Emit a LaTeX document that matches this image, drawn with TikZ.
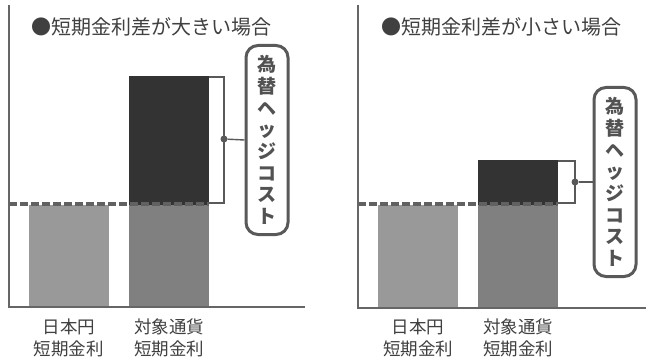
\documentclass[tikz,border=0pt]{standalone}
\usepackage{fontspec}
\newfontfamily\jp{Noto Sans CJK JP}
\begin{document}
\begin{tikzpicture}[x=1pt,y=-1pt,
  axis/.style={draw=black!60,line width=1.5pt},
  barlight/.style={fill=black!40,draw=none},
  barmid/.style={fill=black!50,draw=none},
  bardark/.style={fill=black!80,draw=none},
  lvl/.style={draw=black!62,line width=4pt,dash pattern=on 8pt off 3pt},
  brk/.style={draw=black!65,line width=1.4pt},
  dotnode/.style={circle,fill=black!65,inner sep=0pt,minimum size=7pt},
  costbox/.style={draw=black!65,line width=3pt,rounded corners=12pt,minimum width=42pt,inner sep=0pt,text=black!68,font=\jp\bfseries\fontsize{19}{21.7}\selectfont,align=center},
  ttl/.style={font=\jp\fontsize{20}{22}\selectfont,text=black!75,anchor=west,inner sep=0pt},
  lbl/.style={font=\jp\fontsize{17.5}{22.5}\selectfont,text=black!75,align=center,inner sep=0pt}
]
\useasboundingbox (0,0) rectangle (646,361);
\fill[white] (0,0) rectangle (646,361);
% ---------- left panel ----------
\node[ttl] (t1) at (31,27) {●短期金利差が大きい場合};
\fill[barlight] (29,205) rectangle (109,307);
\fill[barmid] (129,205) rectangle (209,307);
\fill[bardark] (129,76) rectangle (209,205);
\coordinate (l1a) at (9,204);
\coordinate (l1b) at (209,204);
\draw[lvl] (l1a) -- (l1b);
\coordinate (b1t) at (209,77);
\coordinate (b1b) at (209,203);
\draw[brk] (b1t) -- (224,77) -- (224,203) -- (b1b);
\node[dotnode] (d1) at (224,139) {};
\node[costbox,minimum height=189pt] (c1) at (267,140) {為\\替\\ヘ\\ッ\\ジ\\コ\\ス\\ト};
\draw[brk] (d1) -- (c1.west);
\coordinate (a1t) at (9,5);
\coordinate (a1o) at (9,307);
\coordinate (a1r) at (305,307);
\draw[axis] (a1t) -- (a1o) -- (a1r);
\node[lbl] (n1) at (69,338) {日本円\\短期金利};
\node[lbl] (n2) at (169,338) {対象通貨\\短期金利};
% ---------- right panel ----------
\node[ttl] (t2) at (381,27) {●短期金利差が小さい場合};
\fill[barlight] (378,205) rectangle (458,308);
\fill[barmid] (478,205) rectangle (558,308);
\fill[bardark] (478,160) rectangle (558,205);
\coordinate (l2a) at (358,204);
\coordinate (l2b) at (558,204);
\draw[lvl] (l2a) -- (l2b);
\coordinate (b2t) at (558,161);
\coordinate (b2b) at (558,203);
\draw[brk] (b2t) -- (575,161) -- (575,203) -- (b2b);
\node[dotnode] (d2) at (575,182) {};
\node[costbox,minimum height=189pt] (c2) at (615,182) {為\\替\\ヘ\\ッ\\ジ\\コ\\ス\\ト};
\draw[brk] (d2) -- (c2.west);
\coordinate (a2t) at (358,5);
\coordinate (a2o) at (358,308);
\coordinate (a2r) at (646,308);
\draw[axis] (a2t) -- (a2o) -- (a2r);
\node[lbl] (n3) at (418,338) {日本円\\短期金利};
\node[lbl] (n4) at (518,338) {対象通貨\\短期金利};
\end{tikzpicture}
\end{document}
